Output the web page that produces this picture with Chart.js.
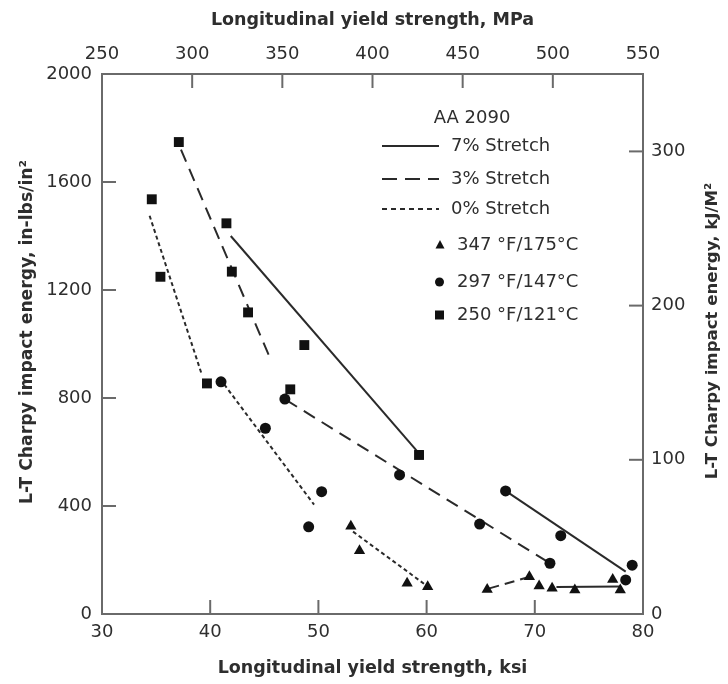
<!DOCTYPE html>
<html><head><meta charset="utf-8">
<script src="https://cdn.jsdelivr.net/npm/chart.js@4.4.1/dist/chart.umd.min.js"></script>
<style>html,body{margin:0;padding:0;background:#fff}</style>
</head><body>
<canvas id="c" width="728" height="684"></canvas>
<script>
// ---- Data ----
const tri347X = [53.0, 53.8, 58.2, 60.1, 65.6, 69.5, 70.4, 71.6, 73.7, 77.2, 77.9];
const tri347Y = [325, 234, 114, 101, 91, 138, 104, 95, 89, 128, 89];
const cir297X = [41.0, 45.1, 46.9, 49.1, 50.3, 57.5, 64.9, 67.3, 71.4, 72.4, 78.4, 79.0];
const cir297Y = [860, 688, 796, 323, 453, 515, 333, 456, 188, 290, 126, 181];
const sq250X = [34.6, 35.4, 37.1, 39.7, 41.5, 42.0, 43.5, 47.4, 48.7, 59.3];
const sq250Y = [1536, 1249, 1748, 854, 1447, 1268, 1117, 832, 996, 589];

// trend lines (start / end points)
const s7SqX = [41.9, 59.3], s7SqY = [1400, 595];
const s7CirX = [67.3, 78.4], s7CirY = [456, 157];
const s7TriX = [72.0, 77.9], s7TriY = [100, 102];
const s3SqX = [37.3, 45.4], s3SqY = [1720, 960];
const s3CirX = [47.0, 71.4], s3CirY = [793, 188];
const s3TriX = [65.8, 69.3], s3TriY = [95, 135];
const s0SqX = [34.4, 39.2], s0SqY = [1475, 890];
const s0CirX = [41.3, 49.6], s0CirY = [850, 405];
const s0TriX = [53.2, 60.0], s0TriY = [305, 105];

// axes
const ksiTicks = [30, 40, 50, 60, 70, 80];
const mpaTicks = [250, 300, 350, 400, 450, 500, 550];
const energyTicks = [0, 400, 800, 1200, 1600, 2000];
const kjTicks = [0, 100, 200, 300];
const kjMax = 2000 * 0.1751;

const legendLines = ['7% Stretch', '3% Stretch', '0% Stretch'];
const legendTemps = ['347 °F/175°C', '297 °F/147°C', '250 °F/121°C'];

const pts = (xs, ys) => xs.map((x, i) => ({x, y: ys[i]}));
const FONT = 'DejaVu Sans';
const INK = '#111';
const TXT = '#2e2e2e';
const AX = '#6a6a6a';

function lineDs(xs, ys, dash) {
  return {type: 'line', data: pts(xs, ys), showLine: true, borderColor: '#2a2a2a',
    borderWidth: 2, borderDash: dash, pointRadius: 0, fill: false, tension: 0, order: 2};
}

const datasets = [
  lineDs(s7SqX, s7SqY, []), lineDs(s7CirX, s7CirY, []), lineDs(s7TriX, s7TriY, []),
  lineDs(s3SqX, s3SqY, [13, 8]), lineDs(s3CirX, s3CirY, [13, 8]), lineDs(s3TriX, s3TriY, [10, 6]),
  lineDs(s0SqX, s0SqY, [4, 3]), lineDs(s0CirX, s0CirY, [4, 3]), lineDs(s0TriX, s0TriY, [4, 3]),
  {label: legendTemps[0], data: pts(tri347X, tri347Y), pointStyle: 'triangle', pointRadius: 6.5,
   backgroundColor: INK, borderColor: INK, borderWidth: 0, showLine: false, order: 1},
  {label: legendTemps[1], data: pts(cir297X, cir297Y), pointStyle: 'circle', pointRadius: 5.5,
   backgroundColor: INK, borderColor: INK, borderWidth: 0, showLine: false, order: 1},
  {label: legendTemps[2], data: pts(sq250X, sq250Y), pointStyle: 'rect', pointRadius: 7,
   backgroundColor: INK, borderColor: INK, borderWidth: 0, showLine: false, order: 1}
];

function fixedTicks(arr) { return (s) => { s.ticks = arr.map(v => ({value: v})); }; }
const plain = v => String(v);

const tickFont = {family: FONT, size: 18};
const titleFont = {family: FONT, size: 17.5, weight: 'bold'};
const border = {display: true, color: AX, width: 2};

const insideTicks = {
  id: 'insideTicks',
  afterDatasetsDraw(chart) {
    const ctx = chart.ctx, a = chart.chartArea, L = 14;
    ctx.save();
    ctx.strokeStyle = AX; ctx.lineWidth = 2;
    const seg = (x1, y1, x2, y2) => { ctx.beginPath(); ctx.moveTo(x1, y1); ctx.lineTo(x2, y2); ctx.stroke(); };
    const s = chart.scales;
    s.x.ticks.forEach(t => { if (t.value > s.x.min && t.value < s.x.max) { const p = s.x.getPixelForValue(t.value); seg(p, a.bottom, p, a.bottom - L); } });
    s.x2.ticks.forEach(t => { if (t.value > s.x2.min && t.value < s.x2.max) { const p = s.x2.getPixelForValue(t.value); seg(p, a.top, p, a.top + L); } });
    s.y.ticks.forEach(t => { if (t.value > s.y.min && t.value < s.y.max) { const p = s.y.getPixelForValue(t.value); seg(a.left, p, a.left + L, p); } });
    s.y2.ticks.forEach(t => { if (t.value > s.y2.min && t.value < s.y2.max) { const p = s.y2.getPixelForValue(t.value); seg(a.right, p, a.right - L, p); } });
    ctx.restore();
  },
  afterDraw(chart) {
    const ctx = chart.ctx;
    // vertical axis titles (both read bottom to top)
    const vTitle = (text, x, y, size) => {
      ctx.save();
      ctx.fillStyle = TXT;
      ctx.font = 'bold ' + size + 'px "' + FONT + '"';
      ctx.textAlign = 'center'; ctx.textBaseline = 'middle';
      ctx.translate(x, y);
      ctx.rotate(-Math.PI / 2);
      ctx.fillText(text, 0, 0);
      ctx.restore();
    };
    vTitle('L-T Charpy impact energy, in-lbs/in²', 28, 332, 17.2);
    vTitle('L-T Charpy impact energy, kJ/M²', 713, 331, 16.6);

    // legend
    ctx.save();
    ctx.fillStyle = TXT;
    ctx.font = '18px "' + FONT + '"';
    ctx.textBaseline = 'middle';
    ctx.textAlign = 'center';
    ctx.fillText('AA 2090', 472, 118);
    ctx.textAlign = 'left';
    const rowsY = [146, 179, 209];
    const dashes = [[], [15, 8], [5, 4]];
    ctx.strokeStyle = '#2a2a2a'; ctx.lineWidth = 2;
    rowsY.forEach((y, i) => {
      ctx.setLineDash(dashes[i]);
      ctx.beginPath(); ctx.moveTo(382, y); ctx.lineTo(439, y); ctx.stroke();
      ctx.fillText(legendLines[i], 451, y);
    });
    ctx.setLineDash([]);
    const mY = [245, 282, 315];
    ctx.fillStyle = INK;
    ctx.beginPath(); ctx.moveTo(440, mY[0] - 5); ctx.lineTo(444.5, mY[0] + 3.5); ctx.lineTo(435.5, mY[0] + 3.5); ctx.closePath(); ctx.fill();
    ctx.beginPath(); ctx.arc(439.5, mY[1], 4.5, 0, Math.PI * 2); ctx.fill();
    ctx.fillRect(435, mY[2] - 4.5, 9, 9);
    ctx.fillStyle = TXT;
    legendTemps.forEach((t, i) => ctx.fillText(t, 457, mY[i]));
    ctx.restore();
  }
};

new Chart(document.getElementById('c'), {
  type: 'scatter',
  data: {datasets},
  options: {
    responsive: false, animation: false, devicePixelRatio: 1,
    layout: {padding: 0},
    plugins: {legend: {display: false}, tooltip: {enabled: false}},
    scales: {
      x: {type: 'linear', position: 'bottom', min: 30, max: 80,
        afterBuildTicks: fixedTicks(ksiTicks),
        afterFit: s => { s.height = 70; },
        grid: {display: false, drawTicks: false}, border,
        ticks: {font: tickFont, color: TXT, padding: 8, maxRotation: 0, callback: plain},
        title: {display: true, text: 'Longitudinal yield strength, ksi', font: titleFont, color: TXT, padding: {top: 0, bottom: 5}}},
      x2: {type: 'linear', position: 'top', min: 250, max: 550,
        afterBuildTicks: fixedTicks(mpaTicks),
        afterFit: s => { s.height = 74; },
        grid: {display: false, drawTicks: false}, border,
        ticks: {font: tickFont, color: TXT, padding: 9, maxRotation: 0, callback: plain},
        title: {display: true, text: 'Longitudinal yield strength, MPa', font: titleFont, color: TXT, padding: {top: 10, bottom: 0}}},
      y: {type: 'linear', position: 'left', min: 0, max: 2000,
        afterBuildTicks: fixedTicks(energyTicks),
        afterFit: s => { s.width = 102; },
        grid: {display: false, drawTicks: false}, border,
        ticks: {font: tickFont, color: TXT, padding: 10, callback: plain},
        title: {display: false}},
      y2: {type: 'linear', position: 'right', min: 0, max: kjMax,
        afterBuildTicks: fixedTicks(kjTicks),
        afterFit: s => { s.width = 85; },
        grid: {display: false, drawTicks: false}, border,
        ticks: {font: tickFont, color: TXT, padding: 8, callback: plain},
        title: {display: false}}
    }
  },
  plugins: [insideTicks]
});
</script>
</body></html>
